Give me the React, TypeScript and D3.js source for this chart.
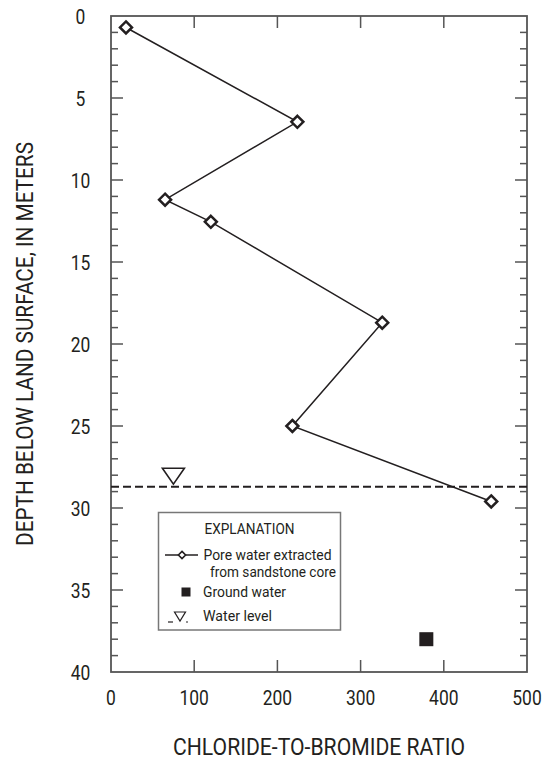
import React from "react";
import * as d3 from "d3";

const poreRatio = [18, 224, 65, 120, 326, 218, 457];
const poreDepth = [0.7, 6.45, 11.2, 12.55, 18.7, 25.0, 29.6];
const groundRatio = [379];
const groundDepth = [38.0];
const waterLevelDepth = [28.7];
const waterLevelMarkX = [75];
const xTicks = [0, 100, 200, 300, 400, 500];
const yTicks = [0, 5, 10, 15, 20, 25, 30, 35, 40];
const xTitle = "CHLORIDE-TO-BROMIDE RATIO";
const yTitle = "DEPTH BELOW LAND SURFACE, IN METERS";
const legendTitle = "EXPLANATION";
const legendLabels = ["Pore water extracted", "from sandstone core", "Ground water", "Water level"];

const FONT = "Roboto, 'Liberation Sans', sans-serif";
const INK = "#231f20";

export default function App() {
  const W = 551, H = 761;
  const L = 111, R = 527, T = 16, B = 672;
  const x = d3.scaleLinear().domain([0, 500]).range([L, R]);
  const y = d3.scaleLinear().domain([0, 40]).range([T, B]);
  const line = d3.line<number>().x((_, i) => x(poreRatio[i])).y((d) => y(d));
  const minorY = d3.range(0, 41, 1);
  const axisColor = "#555";
  const diamond = (cx: number, cy: number, r: number) =>
    `M${cx},${cy - r}L${cx + r},${cy}L${cx},${cy + r}L${cx - r},${cy}Z`;
  const tri = (cx: number, tipY: number, w: number, h: number) =>
    `M${cx - w / 2},${tipY - h}L${cx + w / 2},${tipY - h}L${cx},${tipY}Z`;
  const tl = (s: string) => s.length * 9.8;
  const legendFs = 15.5;
  const legendLens = [128, 126, 83, 69];

  return (
    <svg width={W} height={H} style={{ position: "absolute", left: 0, top: 0 }} fontFamily={FONT}>
      <rect width={W} height={H} fill="#fff" />
      {minorY.map((v) => {
        const major = v % 5 === 0;
        const len = major ? 12 : 7;
        if (v === 0 || v === 40) return null;
        return (
          <g key={"yt" + v} stroke={axisColor} strokeWidth={1.5}>
            <line x1={L} x2={L + len} y1={y(v)} y2={y(v)} />
            <line x1={R} x2={R - len} y1={y(v)} y2={y(v)} />
          </g>
        );
      })}
      {xTicks.slice(1, -1).map((v) => (
        <g key={"xt" + v} stroke={axisColor} strokeWidth={1.5}>
          <line x1={x(v)} x2={x(v)} y1={B} y2={B - 12} />
          <line x1={x(v)} x2={x(v)} y1={T} y2={T + 12} />
        </g>
      ))}
      <rect x={L} y={T} width={R - L} height={B - T} fill="none" stroke={axisColor} strokeWidth={1.8} />
      {yTicks.map((v) => (
        <text key={"yl" + v} x={80.5} y={y(v) + 7.5} textAnchor="middle" fontSize={21} fill={INK}
          textLength={tl(String(v))} lengthAdjust="spacingAndGlyphs">
          {v}
        </text>
      ))}
      {xTicks.map((v) => (
        <text key={"xl" + v} x={x(v)} y={705} textAnchor="middle" fontSize={21} fill={INK}
          textLength={tl(String(v))} lengthAdjust="spacingAndGlyphs">
          {v}
        </text>
      ))}
      <text x={(L + R) / 2} y={755} textAnchor="middle" fontSize={23} fill={INK}
        textLength={292} lengthAdjust="spacingAndGlyphs">
        {xTitle}
      </text>
      <text transform={`translate(33,${(T + B) / 2}) rotate(-90)`} textAnchor="middle" fontSize={23} fill={INK}
        textLength={404} lengthAdjust="spacingAndGlyphs">
        {yTitle}
      </text>
      <line x1={L} x2={R} y1={y(waterLevelDepth[0])} y2={y(waterLevelDepth[0])} stroke={INK} strokeWidth={2} strokeDasharray="8,4" />
      <path d={tri(x(waterLevelMarkX[0]), y(waterLevelDepth[0]) - 2.5, 22, 16)} fill="#fff" stroke={INK} strokeWidth={1.6} />
      <path d={line(poreDepth) || ""} fill="none" stroke={INK} strokeWidth={1.5} />
      {poreDepth.map((d, i) => (
        <path key={"pd" + i} d={diamond(x(poreRatio[i]), y(d), 6)} fill="#fff" stroke={INK} strokeWidth={2.5} />
      ))}
      {groundRatio.map((g, i) => (
        <rect key={"gw" + i} x={x(g) - 7} y={y(groundDepth[i]) - 7} width={14} height={14} fill={INK} />
      ))}
      <rect x={158.5} y={512.5} width={182} height={117.5} fill="#fff" stroke="#777" strokeWidth={1.5} />
      <text x={249.5} y={534} textAnchor="middle" fontSize={legendFs} fill={INK}
        textLength={90} lengthAdjust="spacingAndGlyphs">{legendTitle}</text>
      <line x1={165} x2={198} y1={555} y2={555} stroke={INK} strokeWidth={1.3} />
      <path d={diamond(182, 555, 3.6)} fill="#fff" stroke={INK} strokeWidth={1.6} />
      <text x={203.5} y={560} fontSize={legendFs} fill={INK} textLength={legendLens[0]} lengthAdjust="spacingAndGlyphs">{legendLabels[0]}</text>
      <text x={210} y={576.5} fontSize={legendFs} fill={INK} textLength={legendLens[1]} lengthAdjust="spacingAndGlyphs">{legendLabels[1]}</text>
      <rect x={181.5} y={587.5} width={9} height={9} fill={INK} />
      <text x={203} y={596.5} fontSize={legendFs} fill={INK} textLength={legendLens[2]} lengthAdjust="spacingAndGlyphs">{legendLabels[2]}</text>
      <line x1={168} x2={173} y1={622} y2={622} stroke={INK} strokeWidth={1.2} />
      <line x1={186} x2={188} y1={622} y2={622} stroke={INK} strokeWidth={1.2} />
      <path d={tri(180, 621, 11, 9)} fill="#fff" stroke={INK} strokeWidth={1.2} />
      <text x={203} y={620.5} fontSize={legendFs} fill={INK} textLength={legendLens[3]} lengthAdjust="spacingAndGlyphs">{legendLabels[3]}</text>
    </svg>
  );
}
